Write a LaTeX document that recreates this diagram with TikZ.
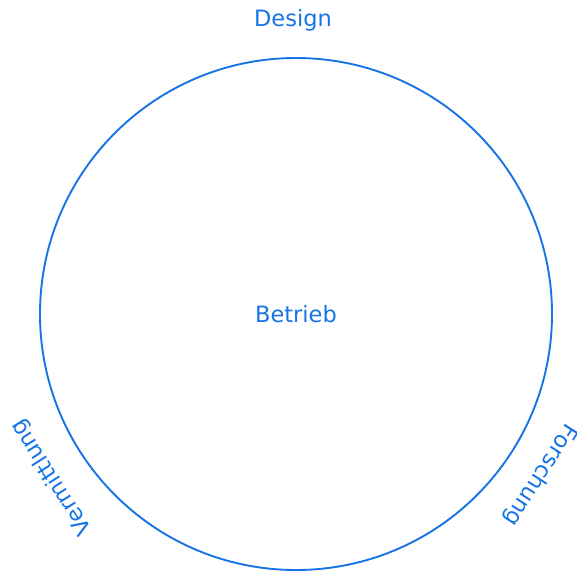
\documentclass[tikz,border=0pt]{standalone}
\usepackage{fontspec}
\setsansfont{DejaVu Sans}
\usetikzlibrary{positioning}
\definecolor{fieldblue}{HTML}{1774E6}

\tikzset{
    field/.style={font=\sffamily\fontsize{22.5}{26}\selectfont, text=fieldblue, inner sep=0pt},
}

\begin{document}
\begin{tikzpicture}[x=1pt, y=-1pt]
    \useasboundingbox (0,0) rectangle (577,571);
    % Ring
    \draw[fieldblue, line width=1.9pt] (296,314) circle (256);
    \coordinate (mid) at (296,314);
    \node[field] (betrieb) at (mid) {Betrieb};

    % Fields round the ring
    \node[field] (design) at ([shift={(-3,-294)}]mid) {Design};
    \node[field, rotate=122.5] (vermittlung) at ([shift={(-244,163)}]mid) {Vermittlung};
    \node[field, rotate=237.5] (forschung) at ([shift={(244,161)}]mid) {Forschung};
\end{tikzpicture}
\end{document}
